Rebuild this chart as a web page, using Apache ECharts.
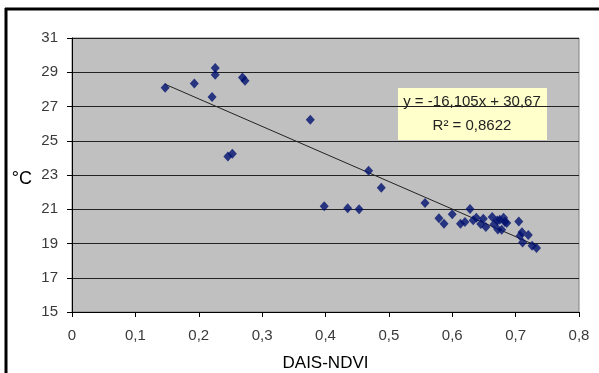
<!DOCTYPE html>
<html>
<head>
<meta charset="utf-8">
<title>DAIS-NDVI vs °C</title>
<script src="https://cdn.jsdelivr.net/npm/echarts@6/dist/echarts.min.js"></script>
<style>
  html, body { margin: 0; padding: 0; background: #fff; }
  #chart { width: 599px; height: 373px; }
</style>
</head>
<body>
<div id="chart"></div>
<script>
// DAIS-NDVI (x) and temperature in °C (y)
const ndvi = [
  0.147, 0.193, 0.226, 0.226, 0.221, 0.269, 0.273, 0.246, 0.253,
  0.376, 0.468, 0.488, 0.398, 0.435, 0.453, 0.557, 0.579, 0.587,
  0.600, 0.628, 0.613, 0.620, 0.633, 0.638, 0.645, 0.649, 0.653,
  0.663, 0.666, 0.671, 0.672, 0.675, 0.678, 0.681, 0.683, 0.686,
  0.705, 0.707, 0.710, 0.711, 0.720, 0.726, 0.733
]
const temp = [
  28.10, 28.35, 29.25, 28.85, 27.55, 28.70, 28.50, 24.08, 24.24,
  26.23, 23.25, 22.25, 21.18, 21.06, 21.00, 21.36, 20.48, 20.15,
  20.71, 21.02, 20.16, 20.25, 20.36, 20.50, 20.14, 20.45, 19.96,
  20.55, 20.12, 20.34, 19.82, 20.38, 19.80, 20.50, 20.25, 20.20,
  20.28, 19.45, 19.65, 19.06, 19.50, 18.87, 18.74
]
// linear trend line ends
const trendX = [0.147, 0.733]
const trendY = [28.30, 18.87]
const eqText = ["y = -16,105x + 30,67", "R² = 0,8622"]

const xTicks = { min: 0, max: 0.8, step: 0.1 }
const yTicks = { min: 15, max: 31, step: 2 }

const points = ndvi.map((x, i) => [x, temp[i]])
const trend = trendX.map((x, i) => [x, trendY[i]])

const fmtComma = (v) => (v === 0 ? "0" : (+v.toFixed(1)).toString().replace(".", ","))

const chart = echarts.init(document.getElementById("chart"))
chart.setOption({
  animation: false,
  grid: {
    left: 72,
    right: 20,
    top: 38,
    bottom: 61,
    outerBoundsMode: "none",
    containLabel: false,
    show: true,
    backgroundColor: "#c0c0c0",
    borderColor: "#808080",
    borderWidth: 1
  },
  xAxis: {
    type: "value",
    min: xTicks.min,
    max: xTicks.max,
    interval: xTicks.step,
    name: "DAIS-NDVI",
    nameLocation: "middle",
    nameGap: 43,
    nameTextStyle: { fontFamily: "Liberation Sans", fontSize: 17, color: "#000" },
    axisLine: { lineStyle: { color: "#000", width: 1 } },
    axisTick: { show: true, length: 5, lineStyle: { color: "#000" } },
    axisLabel: {
      formatter: fmtComma,
      margin: 16,
      fontFamily: "Liberation Sans",
      fontSize: 15,
      color: "#3a3a3a"
    },
    splitLine: { show: false }
  },
  yAxis: {
    type: "value",
    min: yTicks.min,
    max: yTicks.max,
    interval: yTicks.step,
    name: "°C",
    nameLocation: "middle",
    nameRotate: 0,
    nameGap: 40,
    nameTextStyle: {
      fontFamily: "Liberation Sans", fontSize: 18, color: "#000",
      verticalAlign: "top", lineHeight: 8
    },
    axisLine: { show: true, lineStyle: { color: "#000", width: 1 } },
    axisTick: { show: true, length: 5, lineStyle: { color: "#000" } },
    axisLabel: {
      margin: 14,
      fontFamily: "Liberation Sans",
      fontSize: 15,
      color: "#3a3a3a"
    },
    splitLine: { show: true, lineStyle: { color: "#222", width: 1 } }
  },
  series: [
    {
      name: "trend",
      type: "line",
      data: trend,
      showSymbol: false,
      symbol: "none",
      lineStyle: { color: "#222", width: 1 },
      z: 2
    },
    {
      name: "points",
      type: "scatter",
      data: points,
      symbol: "diamond",
      symbolSize: [9, 10],
      itemStyle: { color: "#00106e" },
      z: 3
    }
  ],
  graphic: [
    { type: "line", shape: { x1: 6, y1: 8, x2: 6, y2: 373 }, style: { stroke: "#000", lineWidth: 3 } },
    { type: "line", shape: { x1: 5, y1: 9, x2: 599, y2: 9 }, style: { stroke: "#000", lineWidth: 3 } },
    {
      type: "group",
      left: 398,
      top: 88,
      children: [
        { type: "rect", shape: { x: 0, y: 0, width: 149, height: 52 }, style: { fill: "#ffffcc" } },
        {
          type: "text",
          style: {
            x: 74, y: 14, text: eqText[0], align: "center", verticalAlign: "middle",
            font: "15px 'Liberation Sans'", fill: "#222"
          }
        },
        {
          type: "text",
          style: {
            x: 74, y: 38, text: eqText[1], align: "center", verticalAlign: "middle",
            font: "15px 'Liberation Sans'", fill: "#222"
          }
        }
      ]
    }
  ]
})
</script>
</body>
</html>
